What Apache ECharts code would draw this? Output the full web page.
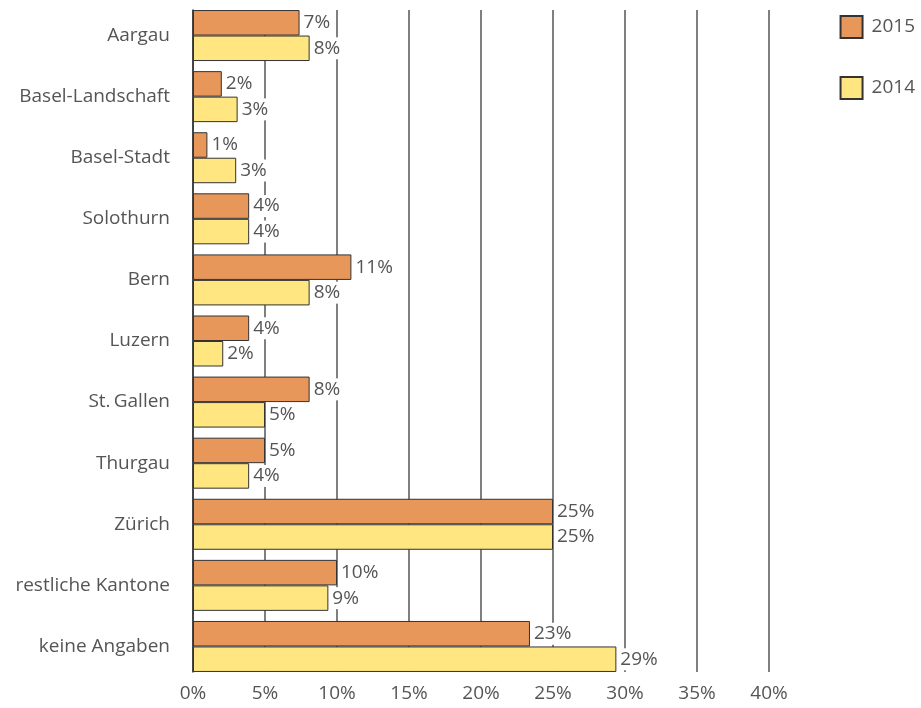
<!DOCTYPE html>
<html>
<head>
<meta charset="utf-8">
<script src="https://cdn.jsdelivr.net/npm/echarts@6/dist/echarts.min.js"></script>
<style>
  html, body { margin: 0; padding: 0; background: #fff; }
  #chart { width: 921px; height: 708px; }
</style>
</head>
<body>
<div id="chart"></div>
<script>
// Cantons, top to bottom
const categories = [
  'Aargau', 'Basel-Landschaft', 'Basel-Stadt', 'Solothurn', 'Bern', 'Luzern',
  'St.\u2009Gallen', 'Thurgau', 'Zürich', 'restliche Kantone', 'keine Angaben'
];
// Share per canton, in percent
const values2015 = [7.4, 2.0, 1.0, 3.9, 11.0, 3.9, 8.1, 5.0, 25.0, 10.0, 23.4];
const values2014 = [8.1, 3.1, 3.0, 3.9, 8.1, 2.1, 5.0, 3.9, 25.0, 9.4, 29.4];
// Value axis ticks
const axisMin = 0;
const axisMax = 40;
const axisStep = 5;

const FONT = 'Open Sans';
const TEXT = '#555';
const SIZE = 19;

const chart = echarts.init(document.getElementById('chart'), null, { renderer: 'canvas' });

const valueLabel = {
  show: true,
  position: 'right',
  distance: 2,
  color: TEXT,
  fontFamily: FONT,
  fontSize: SIZE,
  backgroundColor: '#fff',
  padding: [2, 2, 1, 2],
  formatter: p => Math.round(p.value) + '%'
};

chart.setOption({
  animation: false,
  legend: {
    orient: 'vertical',
    right: 1,
    top: 10,
    itemWidth: 22,
    itemHeight: 22,
    itemGap: 37,
    icon: 'rect',
    textStyle: { color: TEXT, fontFamily: FONT, fontSize: SIZE, padding: [0, 0, 0, 4] },
    data: ['2015', '2014']
  },
  grid: [
    // bars
    { left: 193, right: 152, top: 5, bottom: 31 },
    // scale, grid lines and the left axis line
    { left: 193, right: 152, top: 10, bottom: 36 }
  ],
  xAxis: [
    {
      gridIndex: 0, type: 'value', min: axisMin, max: axisMax, interval: axisStep,
      show: false
    },
    {
      gridIndex: 1, type: 'value', min: axisMin, max: axisMax, interval: axisStep,
      axisLine: { show: false },
      axisTick: { show: false },
      axisLabel: {
        color: TEXT, fontFamily: FONT, fontSize: SIZE, margin: 12,
        formatter: '{value}%'
      },
      splitLine: { show: true, lineStyle: { color: '#555', width: 1.5 } }
    }
  ],
  yAxis: [
    {
      gridIndex: 0, type: 'category', data: categories, inverse: true,
      axisLine: { show: false },
      axisTick: { show: false },
      axisLabel: { color: TEXT, fontFamily: FONT, fontSize: SIZE, margin: 23 }
    },
    {
      gridIndex: 1, type: 'value', min: 0, max: 1,
      axisLine: { show: true, lineStyle: { color: '#333', width: 1.5 } },
      axisTick: { show: false },
      axisLabel: { show: false },
      splitLine: { show: false }
    }
  ],
  series: [
    {
      name: '2015', type: 'bar', xAxisIndex: 0, yAxisIndex: 0,
      data: values2015,
      barWidth: 25.5,
      barGap: '0%',
      itemStyle: { color: '#E8975B', borderColor: '#333', borderWidth: 1 },
      label: valueLabel,
      z: 3
    },
    {
      name: '2014', type: 'bar', xAxisIndex: 0, yAxisIndex: 0,
      data: values2014,
      barWidth: 25.5,
      barGap: '0%',
      itemStyle: { color: '#FFE680', borderColor: '#333', borderWidth: 1 },
      label: valueLabel,
      z: 3
    }
  ]
});
</script>
</body>
</html>
